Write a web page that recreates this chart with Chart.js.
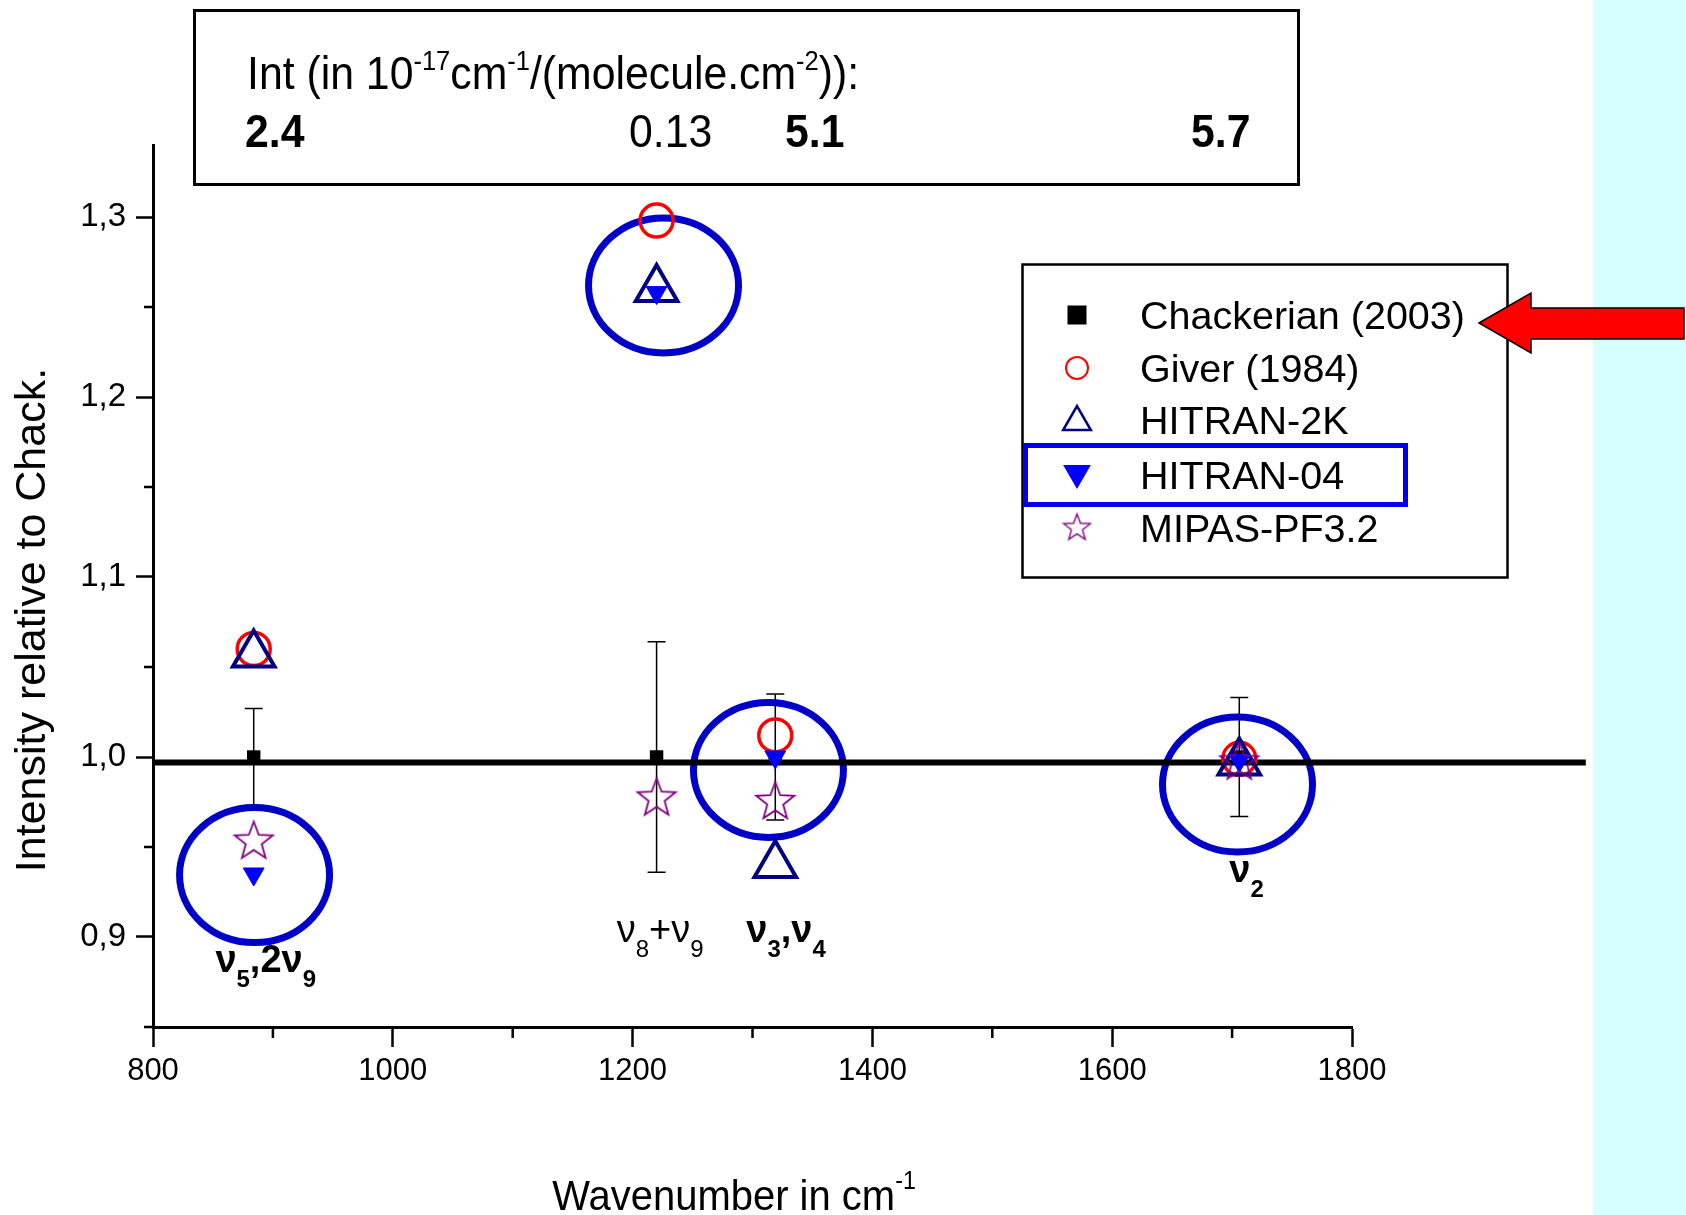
<!DOCTYPE html>
<html>
<head>
<meta charset="utf-8">
<title>Band intensities relative to Chackerian (2003)</title>
<script src="https://cdn.jsdelivr.net/npm/chart.js@4.4.1/dist/chart.umd.min.js"></script>
<style>
  html, body { margin: 0; padding: 0; background: #fff; }
  #wrap { position: relative; width: 1686px; height: 1215px; }
</style>
</head>
<body>
<div id="wrap"><canvas id="chart"></canvas></div>
<script>
// Band positions (cm-1) and intensities relative to Chackerian (2003)
const wavenumbers = [884, 1220, 1319, 1706];
const chackerian = [1.0, 1.0, 1.0, 1.0];
const chackerianErr = [0.027, 0.064, 0.035, 0.033];
const giver = [1.060, 1.298, 1.012, 0.999];
const hitran2k = [1.057, 1.260, 0.940, 0.997];
const hitran04 = [0.935, 1.258, 1.000, 0.998];
const mipas = [0.953, 0.977, 0.975, 0.997];

// band names (_{} = subscript) and integrated intensities for the header box
const bandNames = ['ν_{5},2ν_{9}', 'ν_{8}+ν_{9}', 'ν_{3},ν_{4}', 'ν_{2}'];
const bandIntensities = ['2.4', '0.13', '5.1', '5.7'];

const xTicks = [800, 1000, 1200, 1400, 1600, 1800];
const yTicks = [0.9, 1.0, 1.1, 1.2, 1.3];
const refLevel = 0.997;
const refSpan = [800, 1995];

const FONT = '"Liberation Sans", Arial, sans-serif';

function pts(values) {
  return wavenumbers.map((w, i) => ({ x: w, y: values[i] }));
}

// open five-pointed star used for the MIPAS points
function makeStar(r, color, lw) {
  const size = Math.ceil(2 * r + 2 * lw + 2);
  const c = document.createElement('canvas');
  c.width = c.height = size;
  const g = c.getContext('2d');
  const cx = size / 2, cy = size / 2, inner = r * 0.42;
  g.beginPath();
  for (let i = 0; i < 10; i++) {
    const a = -Math.PI / 2 + i * Math.PI / 5;
    const rr = i % 2 ? inner : r;
    g.lineTo(cx + rr * Math.cos(a), cy + rr * Math.sin(a));
  }
  g.closePath();
  g.strokeStyle = color;
  g.lineWidth = lw;
  g.stroke();
  return c;
}
const starPoint = makeStar(20, '#800080', 1.8);
const starLegend = makeStar(14, '#800080', 1.4);

// tiny markup: ^{..} superscript, _{..} subscript
function parseRich(s) {
  const out = [];
  const re = /([\^_])\{([^}]*)\}|[^\^_]+/g;
  let m;
  while ((m = re.exec(s))) {
    if (m[1]) out.push({ t: m[2], sup: m[1] === '^', sub: m[1] === '_' });
    else out.push({ t: m[0] });
  }
  return out;
}

function drawRich(ctx, s, x, y, o) {
  const parts = parseRich(s);
  const small = o.small || Math.round(o.size * 0.6);
  const font = p => (o.bold ? 'bold ' : '') + ((p.sup || p.sub) ? small : o.size) + 'px ' + FONT;
  let w = 0;
  for (const p of parts) { ctx.font = font(p); w += ctx.measureText(p.t).width; }
  ctx.save();
  ctx.translate(x, y);
  if (o.rotate) ctx.rotate(o.rotate);
  ctx.scale(o.sx || 1, 1);
  let cx = o.align === 'center' ? -w / 2 : 0;
  ctx.fillStyle = o.color || '#000';
  ctx.textAlign = 'left';
  ctx.textBaseline = 'alphabetic';
  for (const p of parts) {
    ctx.font = font(p);
    const dy = p.sup ? -(o.rise || o.size * 0.4) : p.sub ? (o.drop || o.size * 0.35) : 0;
    ctx.fillText(p.t, cx, dy);
    cx += ctx.measureText(p.t).width;
  }
  ctx.restore();
}

function triangle(ctx, x, y, r, down) {
  const s = down ? -1 : 1;
  ctx.beginPath();
  ctx.moveTo(x, y - s * r);
  ctx.lineTo(x + r * 0.866, y + s * r / 2);
  ctx.lineTo(x - r * 0.866, y + s * r / 2);
  ctx.closePath();
}

// ellipses ringing the bands under discussion (centre in data units, radii in px)
const rings = [[884.7, 0.9344], [1225.8, 1.262], [1313.3, 0.9928], [1704.5, 0.9847]];
// where the band names sit (data units, text baseline)
const bandLabelAt = [[894, 0.8806], [1223, 0.8972], [1328, 0.8972], [1712, 0.9306]];
const bandBold = [true, false, true, true];

const decor = {
  id: 'decor',
  beforeDraw(chart) {
    const ctx = chart.ctx;
    ctx.save();
    ctx.fillStyle = '#fff';
    ctx.fillRect(0, 0, chart.width, chart.height);
    ctx.fillStyle = '#d6ffff';
    ctx.fillRect(1593, 0, chart.width - 1593, chart.height);
    ctx.restore();
  },
  beforeDatasetsDraw(chart) {
    const ctx = chart.ctx, xs = chart.scales.x, ys = chart.scales.y;
    ctx.save();
    // error bars of the reference measurement
    ctx.strokeStyle = '#000';
    ctx.lineWidth = 1.5;
    wavenumbers.forEach((w, i) => {
      const px = xs.getPixelForValue(w);
      const top = ys.getPixelForValue(chackerian[i] + chackerianErr[i]);
      const bot = ys.getPixelForValue(chackerian[i] - chackerianErr[i]);
      ctx.beginPath();
      ctx.moveTo(px, top); ctx.lineTo(px, bot);
      ctx.moveTo(px - 9, top); ctx.lineTo(px + 9, top);
      ctx.moveTo(px - 9, bot); ctx.lineTo(px + 9, bot);
      ctx.stroke();
    });
    ctx.strokeStyle = '#0000c8';
    ctx.lineWidth = 7;
    rings.forEach(([x, y]) => {
      ctx.beginPath();
      ctx.ellipse(xs.getPixelForValue(x), ys.getPixelForValue(y), 75, 67.5, 0, 0, 2 * Math.PI);
      ctx.stroke();
    });
    ctx.restore();
  },
  afterDraw(chart) {
    const ctx = chart.ctx, xs = chart.scales.x, ys = chart.scales.y;
    const area = chart.chartArea;
    ctx.save();

    // minor ticks
    ctx.strokeStyle = '#000';
    ctx.lineWidth = 2.5;
    ctx.beginPath();
    [0.85, 0.95, 1.05, 1.15, 1.25].forEach(v => {
      const py = ys.getPixelForValue(v);
      ctx.moveTo(area.left - 9, py); ctx.lineTo(area.left, py);
    });
    [900, 1100, 1300, 1500, 1700].forEach(v => {
      const px = xs.getPixelForValue(v);
      ctx.moveTo(px, area.bottom); ctx.lineTo(px, area.bottom + 11);
    });
    ctx.stroke();

    // axis titles
    drawRich(ctx, 'Intensity relative to Chack.', 45, 620, { size: 43, align: 'center', rotate: -Math.PI / 2 });
    drawRich(ctx, 'Wavenumber in cm^{-1}', 734, 1210, { size: 43, sx: 0.93, align: 'center', small: 25, rise: 21 });

    // band names under the points
    bandNames.forEach((name, i) => {
      const [x, y] = bandLabelAt[i];
      drawRich(ctx, name, xs.getPixelForValue(x), ys.getPixelForValue(y),
        { size: 38, small: 24, drop: 15, bold: bandBold[i], align: 'center' });
    });

    // header box with band intensities
    ctx.fillStyle = '#fff';
    ctx.fillRect(194.5, 10.5, 1104, 174);
    ctx.strokeStyle = '#000';
    ctx.lineWidth = 3;
    ctx.strokeRect(194.5, 10.5, 1104, 174);
    drawRich(ctx, 'Int (in 10^{-17}cm^{-1}/(molecule.cm^{-2})):', 247, 89, { size: 47, sx: 0.91, small: 28, rise: 19 });
    const intX = [245, 629, 785, 1191];
    const intBold = [true, false, true, true];
    bandIntensities.forEach((t, i) => {
      drawRich(ctx, t, intX[i], 147, { size: 46, sx: 0.93, bold: intBold[i] });
    });

    // legend
    ctx.fillStyle = '#fff';
    ctx.fillRect(1022.5, 264.5, 485, 313);
    ctx.lineWidth = 2.5;
    ctx.strokeStyle = '#000';
    ctx.strokeRect(1022.5, 264.5, 485, 313);
    const rows = [315, 368, 420, 475, 528];
    const mx = 1077;
    chart.data.datasets.filter(d => d.label).forEach((d, i) => {
      const y = rows[i];
      ctx.save();
      if (i === 0) {
        ctx.fillStyle = '#000';
        ctx.fillRect(mx - 9.5, y - 9.5, 19, 19);
      } else if (i === 1) {
        ctx.strokeStyle = '#ff0000';
        ctx.lineWidth = 2;
        ctx.beginPath();
        ctx.arc(mx, y, 11, 0, 2 * Math.PI);
        ctx.stroke();
      } else if (i === 2) {
        ctx.strokeStyle = '#000080';
        ctx.lineWidth = 2.5;
        triangle(ctx, mx, y + 2, 16, false);
        ctx.stroke();
      } else if (i === 3) {
        ctx.fillStyle = '#0000ff';
        triangle(ctx, mx, y - 2, 16, true);
        ctx.fill();
      } else {
        ctx.drawImage(starLegend, mx - starLegend.width / 2, y - starLegend.height / 2);
      }
      ctx.restore();
      drawRich(ctx, d.label, 1140, y + 14, { size: 39.5 });
    });
    ctx.strokeStyle = '#0000ee';
    ctx.lineWidth = 5;
    ctx.strokeRect(1025.5, 445.5, 380, 59);

    // red arrow pointing at the reference entry
    ctx.beginPath();
    ctx.moveTo(1479, 323);
    ctx.lineTo(1531, 293);
    ctx.lineTo(1531, 308);
    ctx.lineTo(1684, 308);
    ctx.lineTo(1684, 339);
    ctx.lineTo(1531, 339);
    ctx.lineTo(1531, 353);
    ctx.closePath();
    ctx.fillStyle = '#ff0000';
    ctx.fill();
    ctx.strokeStyle = '#000';
    ctx.lineWidth = 1.5;
    ctx.stroke();

    ctx.restore();
  }
};

Chart.defaults.font.family = FONT;
Chart.defaults.color = '#000';

new Chart(document.getElementById('chart'), {
  type: 'scatter',
  data: {
    datasets: [
      {
        label: 'Chackerian (2003)',
        data: pts(chackerian),
        pointStyle: 'rect',
        pointRadius: 9.5,
        pointHoverRadius: 9.5,
        pointBackgroundColor: '#000',
        pointBorderColor: '#000',
        pointBorderWidth: 0,
        order: 5
      },
      {
        label: 'Giver (1984)',
        data: pts(giver),
        pointStyle: 'circle',
        pointRadius: 16.5,
        pointHoverRadius: 16.5,
        pointBackgroundColor: 'rgba(0,0,0,0)',
        pointBorderColor: '#ff0000',
        pointBorderWidth: 3.5,
        order: 4
      },
      {
        label: 'HITRAN-2K',
        data: pts(hitran2k),
        pointStyle: 'triangle',
        pointRadius: 24,
        pointHoverRadius: 24,
        pointBackgroundColor: 'rgba(0,0,0,0)',
        pointBorderColor: '#000080',
        pointBorderWidth: 4,
        order: 3
      },
      {
        label: 'HITRAN-04',
        data: pts(hitran04),
        pointStyle: 'triangle',
        pointRotation: 180,
        pointRadius: 12,
        pointHoverRadius: 12,
        pointBackgroundColor: '#0000ff',
        pointBorderColor: '#0000ff',
        pointBorderWidth: 1,
        order: 2
      },
      {
        label: 'MIPAS-PF3.2',
        data: pts(mipas),
        pointStyle: starPoint,
        pointRadius: 20,
        pointHoverRadius: 20,
        order: 1
      },
      {
        // ratio = 1 reference line
        data: refSpan.map(x => ({ x: x, y: refLevel })),
        showLine: true,
        borderColor: '#000',
        borderWidth: 6,
        pointRadius: 0,
        pointHoverRadius: 0,
        clip: false,
        order: 6
      }
    ]
  },
  options: {
    responsive: true,
    maintainAspectRatio: false,
    animation: false,
    events: [],
    layout: { padding: { top: 145, right: 334, bottom: 0, left: 0 } },
    plugins: {
      legend: { display: false },
      tooltip: { enabled: false }
    },
    scales: {
      x: {
        type: 'linear',
        min: 800,
        max: 1800,
        afterBuildTicks: s => { s.ticks = xTicks.map(v => ({ value: v })); },
        afterFit: s => { s.height = 188; },
        ticks: {
          callback: v => String(v),
          font: { size: 31 },
          color: '#000',
          padding: 6,
          maxRotation: 0
        },
        grid: { drawOnChartArea: false, tickLength: 20, tickWidth: 2.5, tickColor: '#000' },
        border: { display: true, color: '#000', width: 3 }
      },
      y: {
        type: 'linear',
        min: 0.85,
        max: 1.34,
        afterBuildTicks: s => { s.ticks = yTicks.map(v => ({ value: v })); },
        afterFit: s => { s.width = 153; },
        ticks: {
          callback: v => v.toFixed(1).replace('.', ','),
          font: { size: 33 },
          color: '#000',
          padding: 10
        },
        grid: { drawOnChartArea: false, tickLength: 17, tickWidth: 2.5, tickColor: '#000' },
        border: { display: true, color: '#000', width: 3 }
      }
    }
  },
  plugins: [decor]
});
</script>
</body>
</html>
